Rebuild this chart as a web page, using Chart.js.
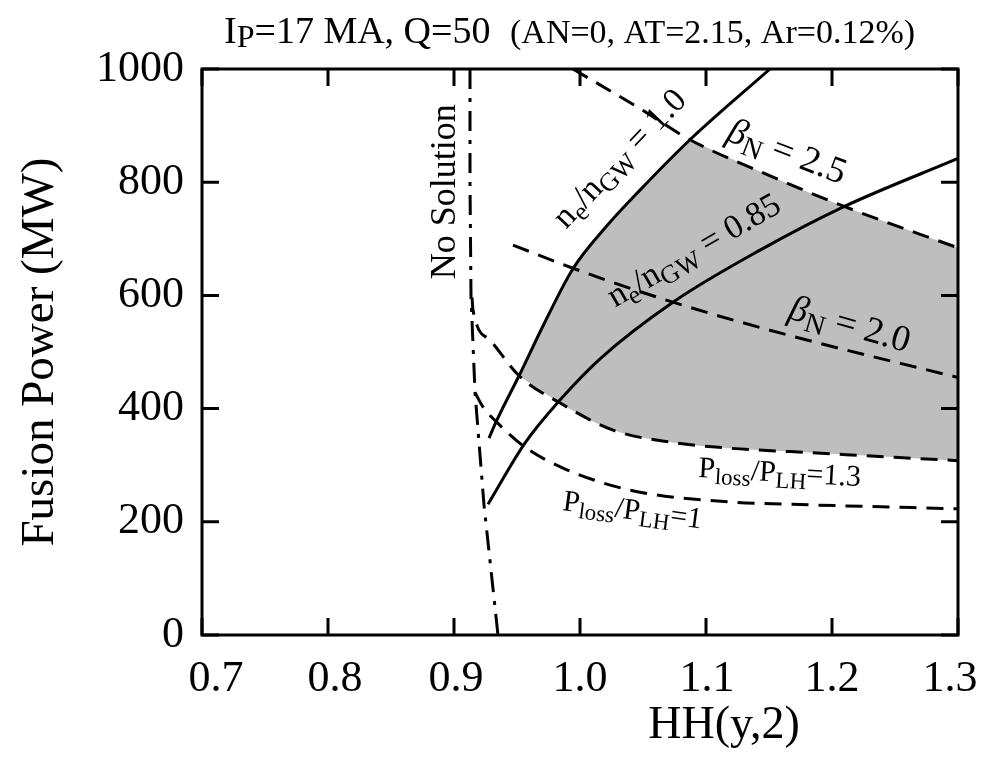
<!DOCTYPE html>
<html>
<head>
<meta charset="utf-8">
<script src="https://cdn.jsdelivr.net/npm/chart.js@4/dist/chart.umd.min.js"></script>
<style>
body { margin: 0; background: #fff; }
#wrap { width: 981px; height: 765px; }
</style>
</head>
<body>
<div id="wrap"><canvas id="c" width="981" height="765"></canvas></div>
<script>
// curves, [HH(y,2), fusion power in MW]
var neGW100 = [[0.9278,348],[0.9341,380],[0.9516,458],[0.9722,553],[0.9944,647],[1.0198,719],[1.0476,786],[1.0873,875],[1.1508,1000]];
var neGW085 = [[0.927,231],[0.9563,339],[0.9841,415],[1.0159,488],[1.0738,588],[1.1429,680],[1.2087,756],[1.3,842]];
var betaN25 = [[0.9944,1000],[1.0476,930],[1.0873,875],[1.15,812],[1.2087,758],[1.3,684]];
var betaN20 = [[0.9468,689],[0.9944,648],[1.0738,588],[1.17,527],[1.3,455]];
var ploss13 = [[0.9143,596],[0.9151,574],[0.9286,521],[0.9516,458],[0.9841,410],[1.0262,362],[1.0738,340],[1.119,330],[1.1667,324],[1.3,308]];
var ploss10 = [[0.9167,428],[0.923,403],[0.9339,376],[0.9563,332],[0.9865,295],[1.0397,256],[1.119,235],[1.1667,231],[1.3,223]];
var noSolution = [[0.9127,1000],[0.9127,800],[0.9135,597],[0.9167,428],[0.9238,230],[0.9349,0]];

var xTicks = [0.7, 0.8, 0.9, 1.0, 1.1, 1.2, 1.3];
var yTicks = [0, 200, 400, 600, 800, 1000];

// corners of the allowed (grey) window
var cornerLow = 0.9516;   // ne/nGW=1.0 meets Ploss/PLH=1.3
var cornerHigh = 1.0873;  // ne/nGW=1.0 meets betaN=2.5

// the x labels in the figure sit a bit inward at the ends (px)
var xLabelShift = [14, 7, 2, 0, 1, 0, -8];

// text on the curves: parts are [text, kind] kind 0 normal, 1 subscript, 2 italic
var curveLabels = [
  {parts: [['No Solution', 0]], x: 0.9008, y: 783, angle: -90, size: 36, align: 'center'},
  {parts: [['n', 0], ['e', 1], ['/n', 0], ['GW', 1], [' = 1.0', 0]], x: 0.9889, y: 716, angle: -46.5, size: 34},
  {parts: [['n', 0], ['e', 1], ['/n', 0], ['GW', 1], [' = 0.85', 0]], x: 1.0278, y: 578, angle: -30, size: 34},
  {parts: [['β', 2], ['N', 1], [' = 2.5', 0]], x: 1.115, y: 875, angle: 21, size: 37},
  {parts: [['β', 2], ['N', 1], [' = 2.0', 0]], x: 1.1643, y: 560, angle: 16, size: 37},
  {parts: [['P', 0], ['loss', 1], ['/P', 0], ['LH', 1], ['=1.3', 0]], x: 1.0937, y: 279, angle: 3.2, size: 30},
  {parts: [['P', 0], ['loss', 1], ['/P', 0], ['LH', 1], ['=1', 0]], x: 0.9857, y: 221, angle: 7.6, size: 30}
];

var FONT = '"Liberation Serif", "Times New Roman", serif';

function pts(arr) {
  return arr.map(function (p) { return {x: p[0], y: p[1]}; });
}

function fontFor(kind, size) {
  if (kind === 1) return Math.round(size * 0.75) + 'px ' + FONT;
  if (kind === 2) return 'italic ' + size + 'px ' + FONT;
  return size + 'px ' + FONT;
}

function drawRich(ctx, parts, size, align) {
  var w = 0;
  parts.forEach(function (p) { ctx.font = fontFor(p[1], size); w += ctx.measureText(p[0]).width; });
  var x = align === 'center' ? -w / 2 : 0;
  parts.forEach(function (p) {
    ctx.font = fontFor(p[1], size);
    var dy = p[1] === 1 ? size * 0.2 : 0;
    ctx.fillText(p[0], x, dy);
    x += ctx.measureText(p[0]).width;
  });
}

var decor = {
  id: 'decor',
  afterDatasetsDraw: function (chart) {
    var ctx = chart.ctx, a = chart.chartArea, xs = chart.scales.x, ys = chart.scales.y;
    ctx.save();
    // frame with inward ticks on all four sides
    ctx.strokeStyle = '#000';
    ctx.lineWidth = 3;
    ctx.strokeRect(a.left, a.top, a.right - a.left, a.bottom - a.top);
    ctx.beginPath();
    xTicks.forEach(function (v) {
      var px = xs.getPixelForValue(v);
      ctx.moveTo(px, a.bottom); ctx.lineTo(px, a.bottom - 17);
      ctx.moveTo(px, a.top); ctx.lineTo(px, a.top + 17);
    });
    yTicks.forEach(function (v) {
      var py = ys.getPixelForValue(v);
      ctx.moveTo(a.left, py); ctx.lineTo(a.left + 17, py);
      ctx.moveTo(a.right, py); ctx.lineTo(a.right - 17, py);
    });
    ctx.stroke();

    ctx.fillStyle = '#000';
    ctx.textBaseline = 'alphabetic';

    // x tick labels
    ctx.textAlign = 'center';
    ctx.font = '44px ' + FONT;
    xTicks.forEach(function (v, i) {
      ctx.fillText(v.toFixed(1), xs.getPixelForValue(v) + xLabelShift[i], 691);
    });
    // x axis title
    ctx.font = '46px ' + FONT;
    ctx.fillText('HH(y,2)', 724, 738);

    // labels along the curves
    ctx.textAlign = 'left';
    curveLabels.forEach(function (l) {
      ctx.save();
      ctx.translate(xs.getPixelForValue(l.x), ys.getPixelForValue(l.y));
      ctx.rotate(l.angle * Math.PI / 180);
      drawRich(ctx, l.parts, l.size, l.align);
      ctx.restore();
    });

    // title line
    ctx.font = '38px ' + FONT;
    ctx.fillText('I', 224, 43);
    var x = 224 + ctx.measureText('I').width;
    ctx.font = '32px ' + FONT;
    ctx.fillText('P', x, 47);
    x += ctx.measureText('P').width;
    ctx.font = '38px ' + FONT;
    ctx.fillText('=17 MA, Q=50', x, 43);
    ctx.font = '34px ' + FONT;
    ctx.fillText('(AN=0, AT=2.15, Ar=0.12%)', 510, 43);
    ctx.restore();
  }
};

function line(arr, dash) {
  return {
    data: pts(arr),
    showLine: true,
    borderColor: '#000',
    borderWidth: 3,
    borderDash: dash,
    cubicInterpolationMode: 'monotone',
    pointRadius: 0,
    fill: false,
    order: 0
  };
}

var lowerEdge = ploss13.filter(function (p) { return p[0] >= cornerLow; });
var leftEdge = neGW100.filter(function (p) { return p[0] >= cornerLow && p[0] <= cornerHigh; });
var topEdge = betaN25.filter(function (p) { return p[0] >= cornerHigh; });

function edge(arr, fillTarget) {
  return {
    data: pts(arr),
    showLine: true,
    borderColor: 'rgba(0,0,0,0)',
    borderWidth: 0,
    cubicInterpolationMode: 'monotone',
    pointRadius: 0,
    backgroundColor: '#bebebe',
    fill: fillTarget,
    order: 10
  };
}

var noSol = line(noSolution, [20, 9, 4, 9]);
noSol.cubicInterpolationMode = 'default';
noSol.tension = 0;

Chart.defaults.font.family = FONT;
Chart.defaults.color = '#000';

new Chart(document.getElementById('c'), {
  type: 'scatter',
  data: {
    datasets: [
      edge(lowerEdge, false),
      edge(leftEdge, 0),
      edge(topEdge, 0),
      line(neGW100, []),
      line(neGW085, []),
      line(betaN25, [17, 10]),
      line(betaN20, [17, 10]),
      line(ploss13, [17, 10]),
      line(ploss10, [17, 10]),
      noSol
    ]
  },
  options: {
    responsive: false,
    devicePixelRatio: 1,
    animation: false,
    events: [],
    layout: {padding: {top: 69, right: 23, left: 0, bottom: 0}},
    plugins: {legend: {display: false}, tooltip: {enabled: false}},
    scales: {
      x: {
        type: 'linear', min: 0.7, max: 1.3,
        afterBuildTicks: function (s) { s.ticks = xTicks.map(function (v) { return {value: v}; }); },
        afterFit: function (s) { s.height = 130; s.paddingLeft = 0; s.paddingRight = 0; },
        ticks: {display: false},
        grid: {display: false, drawTicks: false},
        border: {display: false},
        title: {display: false}
      },
      y: {
        type: 'linear', min: 0, max: 1000,
        afterBuildTicks: function (s) { s.ticks = yTicks.map(function (v) { return {value: v}; }); },
        afterFit: function (s) { s.width = 202; s.paddingTop = 0; s.paddingBottom = 0; },
        ticks: {autoSkip: false, padding: 18, font: {size: 44},
          callback: function (v) { return String(v); }},
        grid: {display: false, drawTicks: false},
        border: {display: false},
        title: {display: true, text: 'Fusion Power (MW)', font: {size: 47}, padding: {top: 12, bottom: 0}}
      }
    }
  },
  plugins: [decor]
});
</script>
</body>
</html>
